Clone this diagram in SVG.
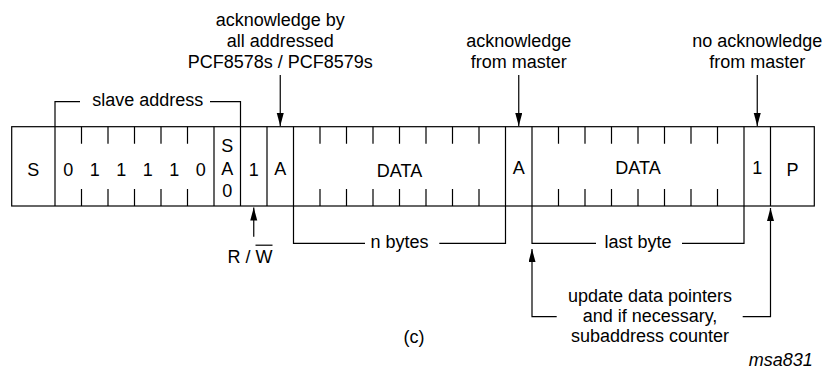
<svg xmlns="http://www.w3.org/2000/svg" width="826" height="371" viewBox="0 0 826 371">
<style>
  .ln { stroke: #000; stroke-width: 1.2; fill: none; }
  .t { font-family: "Liberation Sans", Arial, sans-serif; font-size: 18px; fill: #000; text-anchor: middle; }
  .it { font-style: italic; text-anchor: end; }
</style>
<defs>
  <marker id="ah" markerUnits="userSpaceOnUse" markerWidth="14" markerHeight="8" refX="13" refY="3.5" orient="auto">
    <path d="M0,0 L13,3.5 L0,7 Z" fill="#000"/>
  </marker>
</defs>
<rect width="826" height="371" fill="#fff"/>

<g id="frame">
  <rect class="ln" x="11.7" y="126.7" width="802.6" height="79.3"/>
  <path class="ln" d="M55,126.7V206 M214,126.7V206 M240.5,126.7V206 M267,126.7V206 M293.5,126.7V206 M505.5,126.7V206 M532,126.7V206 M744,126.7V206 M770.5,126.7V206"/>
  <path class="ln" d="M81.5,126.7v17 M108,126.7v17 M134.5,126.7v17 M161,126.7v17 M187.5,126.7v17 M81.5,206v-17 M108,206v-17 M134.5,206v-17 M161,206v-17 M187.5,206v-17"/>
  <path class="ln" d="M320,126.7v17 M346.5,126.7v17 M373,126.7v17 M399.5,126.7v17 M426,126.7v17 M452.5,126.7v17 M479,126.7v17 M320,206v-17 M346.5,206v-17 M373,206v-17 M399.5,206v-17 M426,206v-17 M452.5,206v-17 M479,206v-17"/>
  <path class="ln" d="M558.5,126.7v17 M585,126.7v17 M611.5,126.7v17 M638,126.7v17 M664.5,126.7v17 M691,126.7v17 M717.5,126.7v17 M558.5,206v-17 M585,206v-17 M611.5,206v-17 M638,206v-17 M664.5,206v-17 M691,206v-17 M717.5,206v-17"/>
</g>

<g id="cells">
  <text class="t" x="33.3" y="176">S</text>
  <text class="t" x="68.25" y="175.5">0</text>
  <text class="t" x="94.75" y="175.5">1</text>
  <text class="t" x="121.25" y="175.5">1</text>
  <text class="t" x="147.75" y="175.5">1</text>
  <text class="t" x="174.25" y="175.5">1</text>
  <text class="t" x="200.75" y="175.5">0</text>
  <text class="t" x="227.25" y="152">S</text>
  <text class="t" x="227.25" y="174.5">A</text>
  <text class="t" x="227.25" y="197">0</text>
  <text class="t" x="253.75" y="175.5">1</text>
  <text class="t" x="280.25" y="175">A</text>
  <text class="t" x="399.5" y="176.5">DATA</text>
  <text class="t" x="518.75" y="173.5">A</text>
  <text class="t" x="638" y="173.5">DATA</text>
  <text class="t" x="757.25" y="173.5">1</text>
  <text class="t" x="792.4" y="176">P</text>
</g>

<g id="labels">
  <text class="t" x="147.75" y="105.7">slave address</text>
  <text class="t" x="280.25" y="25.7">acknowledge by</text>
  <text class="t" x="280.25" y="46.7">all addressed</text>
  <text class="t" x="280.25" y="68.3">PCF8578s / PCF8579s</text>
  <text class="t" x="518.75" y="46.7">acknowledge</text>
  <text class="t" x="518.75" y="68.3">from master</text>
  <text class="t" x="757.25" y="46.7">no acknowledge</text>
  <text class="t" x="757.25" y="68.3">from master</text>
  <text class="t" x="250" y="263.3">R / W</text>
  <text class="t" x="399.5" y="248.3">n bytes</text>
  <text class="t" x="638" y="248.3">last byte</text>
  <text class="t" x="650" y="301.7">update data pointers</text>
  <text class="t" x="650" y="321.7">and if necessary,</text>
  <text class="t" x="650" y="341.7">subaddress counter</text>
  <text class="t" x="414" y="342.7">(c)</text>
  <text class="t it" x="812.7" y="366">msa831</text>
</g>

<g id="connectors">
  <path class="ln" d="M55,126.7V101.7H80 M210,101.7H240.5V126.7"/>
  <path class="ln" d="M293.5,206V243.3H365 M439.3,243.3H505.5V206"/>
  <path class="ln" d="M532,206V243.3H596 M682,243.3H744V206"/>
  <line class="ln" x1="280.25" y1="75" x2="280.25" y2="126" marker-end="url(#ah)"/>
  <line class="ln" x1="518.75" y1="75" x2="518.75" y2="126" marker-end="url(#ah)"/>
  <line class="ln" x1="757.25" y1="75" x2="757.25" y2="126" marker-end="url(#ah)"/>
  <line class="ln" x1="253.75" y1="236.7" x2="253.75" y2="207.5" marker-end="url(#ah)"/>
  <path class="ln" d="M556.7,316.7H532V249" marker-end="url(#ah)"/>
  <path class="ln" d="M742.7,316.7H770.5V208" marker-end="url(#ah)"/>
  <line class="ln" x1="255.5" y1="245.2" x2="272.5" y2="245.2"/>
</g>
</svg>
